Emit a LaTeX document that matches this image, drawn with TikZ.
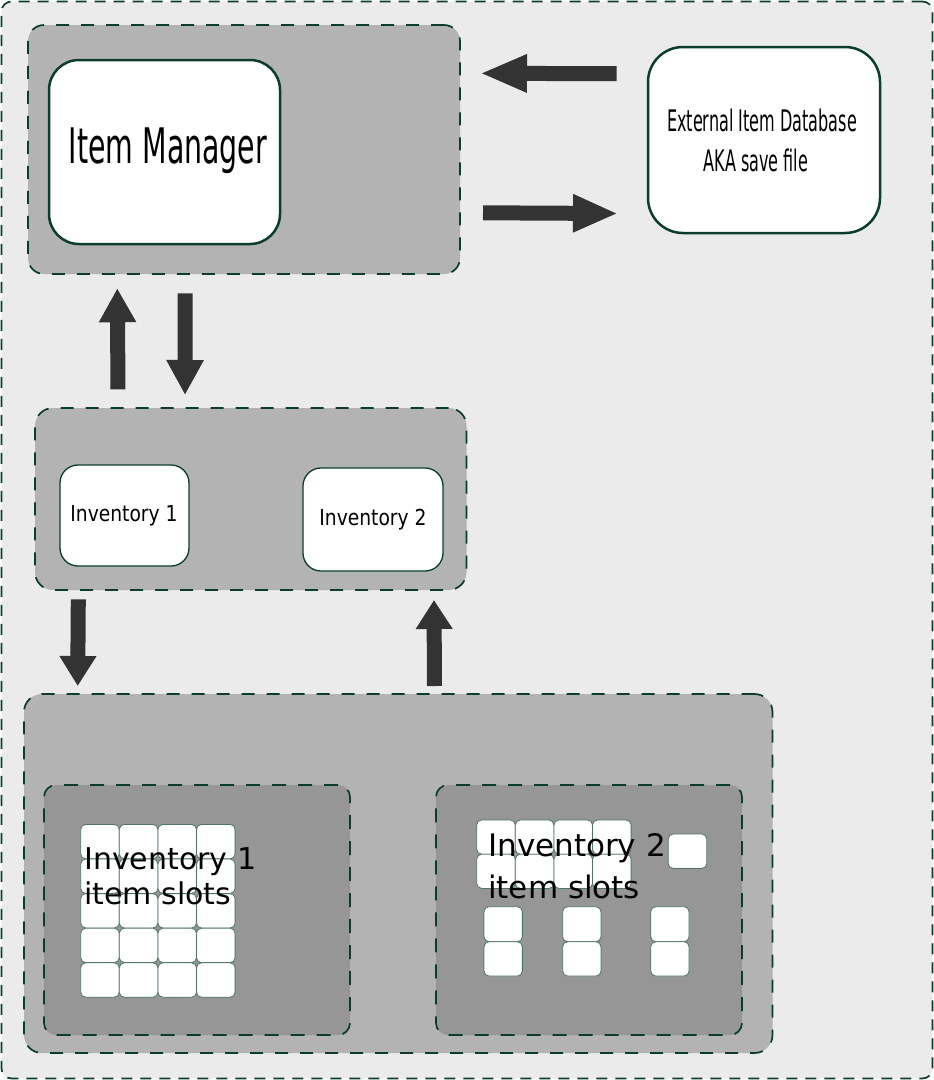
\documentclass[tikz,border=0pt]{standalone}
\usepackage{fontspec}
\setmainfont{DejaVu Sans}
\newfontfamily\imfont[FakeStretch=0.58]{DejaVu Sans}
\newfontfamily\extfont[FakeStretch=0.54]{DejaVu Sans}
\newfontfamily\invfont[FakeStretch=0.85]{DejaVu Sans}
\usetikzlibrary{arrows.meta}
\definecolor{bggray}{HTML}{EBEBEB}
\definecolor{grpgray}{HTML}{B3B3B3}
\definecolor{innergray}{HTML}{969696}
\definecolor{dkgreen}{HTML}{0B3D2A}
\definecolor{slotline}{HTML}{4F7567}
\definecolor{arrowgray}{HTML}{333333}
\tikzset{
  grp/.style={draw=dkgreen, line width=1.7pt, dash pattern=on 13pt off 12pt, fill=grpgray, rounded corners=18pt, inner sep=0pt},
  innergrp/.style={draw=dkgreen, line width=1.7pt, dash pattern=on 14pt off 12pt, fill=innergray, rounded corners=12pt, inner sep=0pt},
  bigbox/.style={draw=dkgreen, line width=2.5pt, fill=white, inner sep=0pt},
  invbox/.style={draw=dkgreen, line width=1.3pt, fill=white, rounded corners=18pt, inner sep=0pt},
  slot/.style={draw=slotline, line width=0.8pt, fill=white, rounded corners=5pt, inner sep=0pt, minimum width=38.6pt, minimum height=34.4pt},
  fat/.style={draw=arrowgray, line width=15pt},
  lbl/.style={inner sep=0pt, text=black},
}
\begin{document}
\begin{tikzpicture}[x=1pt,y=-1pt]
\useasboundingbox (0,0) rectangle (934,1080);
% outer background
\node[draw=dkgreen, line width=1.7pt, dash pattern=on 11pt off 8pt, fill=bggray, rounded corners=10pt, minimum width=931pt, minimum height=1077pt, inner sep=0pt] (outer) at (467,540) {};

% top group
\node[grp, minimum width=432pt, minimum height=249pt, rounded corners=16pt] (topgrp) at (244,149.5) {};
\node[bigbox, rounded corners=30pt, minimum width=231pt, minimum height=184pt] (im) at (164.5,152) {};
\node[lbl, anchor=base, font=\imfont\fontsize{49}{55}\selectfont] (imtxt) at (168,163) {Item Manager};

% external database
\node[bigbox, rounded corners=35pt, minimum width=232pt, minimum height=186pt] (ext) at (764,140) {};
\node[lbl, anchor=base, align=center, font=\extfont\fontsize{29.7}{40}\selectfont] (exttxt) at (762,171.7) {External Item Database\\AKA save file\hspace*{12pt}};

% inventory group
\node[grp, minimum width=431.5pt, minimum height=182pt] (invgrp) at (250.75,499) {};
\node[invbox, minimum width=129pt, minimum height=101pt] (inv1) at (124.5,515.5) {};
\node[lbl, anchor=base, font=\invfont\fontsize{22}{26}\selectfont] (inv1txt) at (124,521.7) {Inventory 1};
\node[invbox, minimum width=140pt, minimum height=103pt] (inv2) at (373,519.5) {};
\node[lbl, anchor=base, font=\invfont\fontsize{22}{26}\selectfont] (inv2txt) at (373,525) {Inventory 2};

% bottom group
\node[grp, minimum width=748.5pt, minimum height=359pt] (botgrp) at (398.25,873.5) {};
\node[innergrp, minimum width=306pt, minimum height=250pt] (slots1) at (197,910) {};
\node[innergrp, minimum width=306pt, minimum height=250pt] (slots2) at (589,910) {};

% inventory 1 slots: 4 x 5 grid
\foreach \i in {0,...,3}{
  \foreach \j in {0,...,4}{
    \node[slot] (sa-\i-\j) at ({80.7+19.3+38.6*\i},{824.3+17.3+34.6*\j}) {};
  }
}
% inventory 2 slots
\foreach \i in {0,...,3}{
  \foreach \j in {0,1}{
    \node[slot, minimum height=34.2pt] (sb-\i-\j) at ({476.7+19.3+38.6*\i},{820+17.1+34.2*\j}) {};
  }
}
\node[slot] (sbx) at (687.5,851.2) {};
\foreach \x [count=\k] in {503.2,581.8,669.9}{
  \node[slot, minimum width=38.3pt, minimum height=35pt] (sc-\k-1) at (\x,924.2) {};
  \node[slot, minimum width=38.3pt, minimum height=34.3pt] (sc-\k-2) at (\x,958.9) {};
}

\node[lbl, anchor=base west, align=left, font=\fontsize{30}{35}\selectfont] (s1txt) at (84,904) {Inventory 1\\item slots};
\node[lbl, anchor=base west, align=left, font=\fontsize{31}{41.5}\selectfont] (s2txt) at (488,898) {Inventory 2\\item slots};

% arrows
\coordinate (a1s) at (616.7,73.7); \coordinate (a1e) at (480,73.3);
\coordinate (a2s) at (483,212.8);  \coordinate (a2e) at (618,213.5);
\coordinate (a3s) at (118,389.3);  \coordinate (a3e) at (117.3,288.3);
\coordinate (a4s) at (185.2,293.3); \coordinate (a4e) at (185,395);
\coordinate (a5s) at (78.3,599.3); \coordinate (a5e) at (77.7,686);
\coordinate (a6s) at (434.5,686);  \coordinate (a6e) at (434,600);
\draw[fat, -{Triangle[length=47pt,width=35pt]}] (a1s) -- (a1e);
\draw[fat, -{Triangle[length=45pt,width=35pt]}] (a2s) -- (a2e);
\draw[fat, -{Triangle[length=34pt,width=35pt]}] (a3s) -- (a3e);
\draw[fat, -{Triangle[length=35pt,width=35pt]}] (a4s) -- (a4e);
\draw[fat, -{Triangle[length=30pt,width=35pt]}] (a5s) -- (a5e);
\draw[fat, -{Triangle[length=29pt,width=35pt]}] (a6s) -- (a6e);
\end{tikzpicture}
\end{document}
